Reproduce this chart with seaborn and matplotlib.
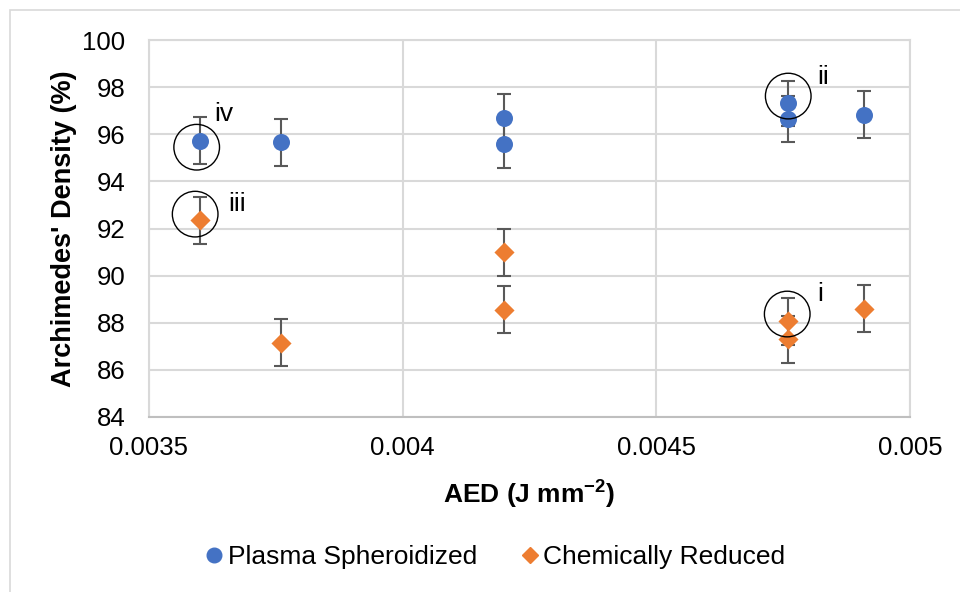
import numpy as np
import pandas as pd
import matplotlib
matplotlib.use("Agg")
import matplotlib.pyplot as plt
from matplotlib.patches import Rectangle
import seaborn as sns

# ===== Data =====
ps_aed = [0.0036, 0.00376, 0.0042, 0.0042, 0.00476, 0.00476, 0.00491]
ps_density = [95.72, 95.66, 96.70, 95.58, 97.31, 96.64, 96.83]
ps_err = [1.0, 1.0, 1.0, 1.0, 0.97, 0.98, 1.0]

cr_aed = [0.0036, 0.00376, 0.0042, 0.0042, 0.00476, 0.00476, 0.00491]
cr_density = [92.35, 87.15, 91.00, 88.55, 88.07, 87.30, 88.60]
cr_err = [1.0, 1.0, 1.0, 1.0, 1.0, 1.0, 1.0]

# circled samples and their labels
mark_aed = [0.003594, 0.003591, 0.00476, 0.004758]
mark_density = [95.45, 92.61, 97.62, 88.37]
mark_labels = ["iv", "iii", "ii", "i"]
label_aed = [0.003628, 0.003656, 0.004818, 0.004818]
label_density = [96.85, 93.05, 98.42, 89.22]

df = pd.concat([
    pd.DataFrame({"AED": ps_aed, "Density": ps_density, "Err": ps_err,
                  "Powder": "Plasma Spheroidized"}),
    pd.DataFrame({"AED": cr_aed, "Density": cr_density, "Err": cr_err,
                  "Powder": "Chemically Reduced"}),
], ignore_index=True)

# ===== Style =====
sns.set_theme(style="whitegrid")
plt.rcParams['font.family'] = ['Liberation Sans', 'DejaVu Sans']
plt.rcParams['mathtext.fontset'] = 'custom'
plt.rcParams['mathtext.rm'] = 'Liberation Sans'
plt.rcParams['mathtext.bf'] = 'Liberation Sans:bold'
plt.rcParams['text.color'] = 'black'
plt.rcParams['axes.labelcolor'] = 'black'

colors = {"Plasma Spheroidized": "#4472C4", "Chemically Reduced": "#ED7D31"}
markers = {"Plasma Spheroidized": "o", "Chemically Reduced": "D"}
sizes = {"Plasma Spheroidized": 150, "Chemically Reduced": 105}

fig = plt.figure(figsize=(9.6, 5.92), dpi=100)
ax = fig.add_axes([149 / 960, 1 - 417 / 592, (910 - 149) / 960, (417 - 40) / 592])

# outer chart border
fig.patches.append(Rectangle((10 / 960, -0.1), 1.2, 1 - 10 / 592 + 0.1,
                             transform=fig.transFigure, fill=False,
                             edgecolor="#d9d9d9", linewidth=1.2))

# error bars
ax.errorbar(df["AED"], df["Density"], yerr=df["Err"], fmt="none",
            ecolor="#595959", elinewidth=1.5, capsize=5, capthick=1.5, zorder=2)

for name, grp in df.groupby("Powder", sort=False):
    sns.scatterplot(data=grp, x="AED", y="Density", ax=ax,
                    color=colors[name], marker=markers[name], s=sizes[name],
                    linewidth=0, label=name, zorder=3, legend=False)

# circles around selected samples
ax.scatter(mark_aed, mark_density, s=1080, facecolors="none",
           edgecolors="black", linewidths=1.0, zorder=4)
for x, y, t in zip(label_aed, label_density, mark_labels):
    ax.text(x, y, t, fontsize=19, ha="left", va="center", color="black")

ax.set_xlim(0.0035, 0.005)
ax.set_ylim(84, 100)
ax.set_xticks([0.0035, 0.004, 0.0045, 0.005])
ax.set_xticklabels(["0.0035", "0.004", "0.0045", "0.005"])
ax.set_yticks(np.arange(84, 101, 2))
ax.tick_params(axis="both", length=0, labelsize=18.5, colors="black")
ax.tick_params(axis="y", pad=17)
ax.tick_params(axis="x", pad=14)
ax.grid(True, color="#d9d9d9", linewidth=1.5)
for s in ["left", "top", "right"]:
    ax.spines[s].set_color("#d9d9d9")
    ax.spines[s].set_linewidth(1.5)
ax.spines["bottom"].set_color("#bfbfbf")
ax.spines["bottom"].set_linewidth(1.5)

ax.set_xlabel(r"AED (J mm$^{\mathbf{-2}}$)", fontsize=19, fontweight="bold",
              labelpad=12, color="black")
ax.set_ylabel("Archimedes' Density (%)", fontsize=19.5, fontweight="bold",
              labelpad=4, color="black")

handles = [
    plt.Line2D([], [], marker="o", color="#4472C4", linestyle="none", markersize=10.5),
    plt.Line2D([], [], marker="D", color="#ED7D31", linestyle="none", markersize=8.5),
]
fig.legend(handles, list(colors.keys()), loc="center",
           bbox_to_anchor=(0.5 + 13 / 960, 1 - 557 / 592),
           ncol=2, frameon=False, fontsize=19, handletextpad=0.0, columnspacing=1.5,
           handlelength=1.0, labelcolor="black")

fig.savefig("out.png", dpi=100)
